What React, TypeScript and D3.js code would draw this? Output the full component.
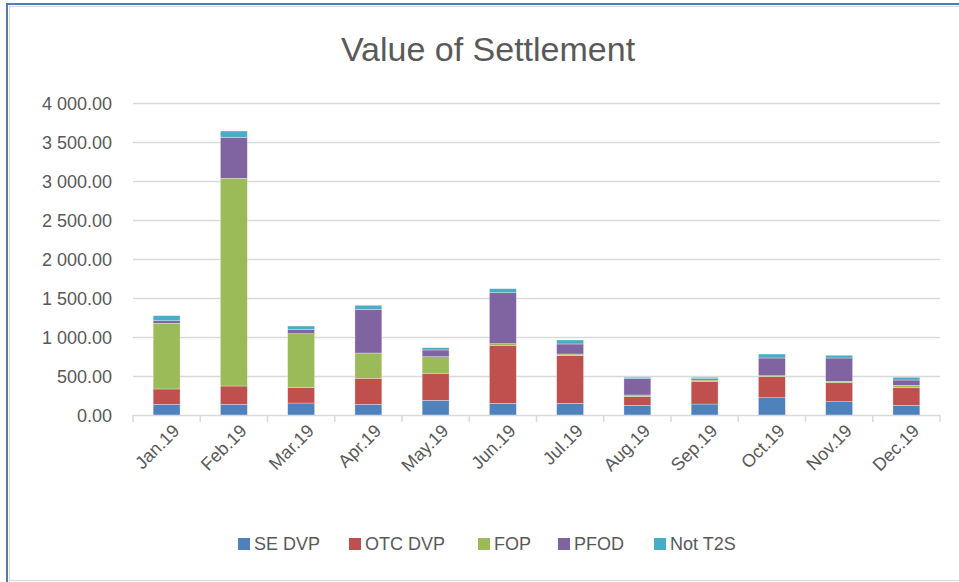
import React, { useEffect, useRef } from "react";
import * as d3 from "d3";

const months = ["Jan.19", "Feb.19", "Mar.19", "Apr.19", "May.19", "Jun.19", "Jul.19", "Aug.19", "Sep.19", "Oct.19", "Nov.19", "Dec.19"];
const seriesNames = ["SE DVP", "OTC DVP", "FOP", "PFOD", "Not T2S"];
const seDvp = [144, 144, 160, 144, 195, 156, 156, 131, 147, 228, 177, 131];
const otcDvp = [196, 234, 201, 333, 346, 744, 611, 110, 291, 269, 243, 225];
const fop = [842, 2663, 688, 324, 213, 21, 21, 22, 17, 13, 18, 31];
const pfod = [33, 525, 51, 560, 86, 653, 129, 209, 17, 227, 299, 68];
const notT2s = [65, 81, 47, 52, 29, 52, 51, 18, 18, 51, 35, 35];
const colors = ["#4F81BD", "#C0504D", "#9BBB59", "#8064A2", "#4BACC6"];
const yTicks = [0, 500, 1000, 1500, 2000, 2500, 3000, 3500, 4000];

const W = 959;
const H = 582;
const FONT = "'Liberation Sans', Arial, sans-serif";

export default function App() {
  const ref = useRef<SVGSVGElement>(null);

  useEffect(() => {
    draw();
    // eslint-disable-next-line
  }, []);

  function draw() {
    const svg = d3.select(ref.current);
    svg.selectAll("*").remove();

    // frame
    svg.append("rect").attr("x", 0).attr("y", 0).attr("width", W).attr("height", H).attr("fill", "#fff");
    svg.append("line").attr("x1", 9).attr("x2", W).attr("y1", 6.5).attr("y2", 6.5).attr("stroke", "#d9d9d9");
    svg.append("line").attr("x1", 9.5).attr("x2", 9.5).attr("y1", 6).attr("y2", H).attr("stroke", "#d9d9d9");
    svg.append("line").attr("x1", 9).attr("x2", W).attr("y1", 580.5).attr("y2", 580.5).attr("stroke", "#d9d9d9");
    svg.append("line").attr("x1", 6).attr("x2", W).attr("y1", 4).attr("y2", 4).attr("stroke", "#4a7ebb").attr("stroke-width", 2);
    svg.append("line").attr("x1", 7).attr("x2", 7).attr("y1", 3).attr("y2", H).attr("stroke", "#4a7ebb").attr("stroke-width", 2);

    const rows = months.map((m, i) => ({
      month: m,
      "SE DVP": seDvp[i],
      "OTC DVP": otcDvp[i],
      FOP: fop[i],
      PFOD: pfod[i],
      "Not T2S": notT2s[i],
    }));

    const x = d3.scaleBand().domain(months).range([133, 940]).paddingInner(0.6).paddingOuter(0.3);
    const y = d3.scaleLinear().domain([0, 4000]).range([415.5, 103.5]);
    const fmt = (v: number) => d3.format(",.2f")(v).replace(/,/g, " ");

    // gridlines
    svg.append("g").selectAll("line").data(yTicks.slice(1)).join("line")
      .attr("x1", 133).attr("x2", 940)
      .attr("y1", d => y(d)).attr("y2", d => y(d))
      .attr("stroke", "#d9d9d9").attr("stroke-width", 1.5);

    svg.append("g").selectAll("text").data(yTicks).join("text")
      .attr("x", 112).attr("y", d => y(d)).attr("dy", "0.35em")
      .attr("text-anchor", "end")
      .attr("font-family", FONT).attr("font-size", 18).attr("fill", "#595959")
      .text(d => fmt(d));

    // stacked bars
    const stack = d3.stack<any>().keys(seriesNames);
    const layers = stack(rows);
    svg.append("g").selectAll("g").data(layers).join("g")
      .attr("fill", (_d, i) => colors[i])
      .selectAll("rect").data(d => d).join("rect")
      .attr("x", d => x(d.data.month) as number)
      .attr("width", x.bandwidth())
      .attr("y", d => y(d[1]))
      .attr("height", d => y(d[0]) - y(d[1]))
      .attr("stroke", "#ffffff").attr("stroke-opacity", 0.5).attr("stroke-width", 0.6);

    // x axis
    svg.append("line").attr("x1", 133).attr("x2", 940).attr("y1", 415.5).attr("y2", 415.5)
      .attr("stroke", "#d9d9d9").attr("stroke-width", 1.5);
    const bounds = d3.range(months.length + 1).map(i => 133 + i * (807 / months.length));
    svg.append("g").selectAll("line").data(bounds).join("line")
      .attr("x1", d => d).attr("x2", d => d).attr("y1", 415).attr("y2", 422)
      .attr("stroke", "#d9d9d9").attr("stroke-width", 1.5);

    svg.append("g").selectAll("text").data(months).join("text")
      .attr("text-anchor", "end")
      .attr("transform", d => `translate(${(x(d) as number) + x.bandwidth() / 2 + 14},${432}) rotate(-45)`)
      .attr("font-family", FONT).attr("font-size", 18).attr("fill", "#595959")
      .text(d => d);

    // title
    svg.append("text").attr("x", 488).attr("y", 61).attr("text-anchor", "middle")
      .attr("font-family", FONT).attr("font-size", 34).attr("fill", "#595959")
      .text("Value of Settlement");

    // legend
    const legendX = [238, 349, 478, 558, 654];
    const lg = svg.append("g").selectAll("g").data(seriesNames).join("g")
      .attr("transform", (_d, i) => `translate(${legendX[i]},${538})`);
    lg.append("rect").attr("width", 12).attr("height", 12).attr("fill", (_d, i) => colors[i]);
    lg.append("text").attr("x", 16).attr("y", 6).attr("dy", "0.35em")
      .attr("font-family", FONT).attr("font-size", 18).attr("fill", "#595959")
      .text(d => d);
  }

  return (
    <svg ref={ref} width={W} height={H} style={{ position: "absolute", left: 0, top: 0 }} />
  );
}
